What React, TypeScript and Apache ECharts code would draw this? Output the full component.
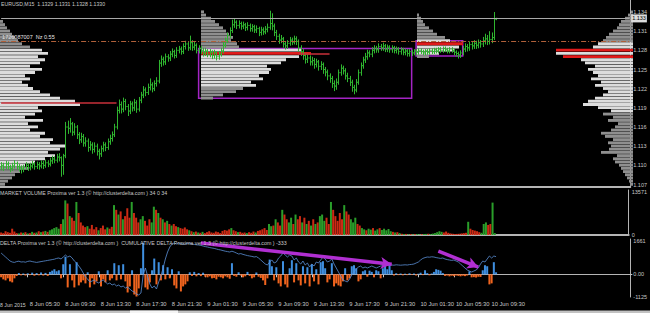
import React, { useEffect, useRef } from "react";
import * as echarts from "echarts";

const FONT = "'Liberation Sans', Arial, sans-serif";
const TEXT = "#c8c8c8";
const BAR_GREEN = "#2fb52f";
const VOL_UP = "#2a9e2a";
const VOL_DN = "#cc2a14";
const DELTA_UP = "#3f8fe0";
const DELTA_DN = "#f0641e";
const CUM_LINE = "#5b8fd6";
const PURPLE = "#a324c4";
const ARROW = "#b12fd2";

// ---- time axis ----
const SESSION_START = Date.UTC(2015, 5, 8, 2, 30);
const BAR_MINUTES = 15;
const SLOT_COUNT = 284;
const MONTHS = ["Jan", "Feb", "Mar", "Apr", "May", "Jun", "Jul", "Aug", "Sep", "Oct", "Nov", "Dec"];
const LABEL_HOURS = [1, 5, 9, 13, 17, 21];
const FIRST_DATE_LABEL = "8 Jun 2015";

// ---- price bars (M15) ----
const FIRST_OPEN = 1.1098;
const closes = [
  1.1100, 1.1097, 1.1102, 1.1098, 1.1095, 1.1099, 1.1103, 1.1098, 1.1096, 1.1094,
  1.1097, 1.1100, 1.1096, 1.1099, 1.1102, 1.1098, 1.1101, 1.1099, 1.1103, 1.1100,
  1.1104, 1.1102, 1.1107, 1.1110, 1.1108, 1.1113, 1.1112, 1.1100, 1.1115, 1.1160,
  1.1158, 1.1165, 1.1152, 1.1160, 1.1148, 1.1140, 1.1145, 1.1135, 1.1138, 1.1128,
  1.1132, 1.1125, 1.1130, 1.1122, 1.1118, 1.1126, 1.1132, 1.1128, 1.1137, 1.1142,
  1.1148, 1.1160, 1.1186, 1.1195, 1.1188, 1.1200, 1.1192, 1.1185, 1.1196, 1.1190,
  1.1198, 1.1188, 1.1202, 1.1210, 1.1218, 1.1214, 1.1222, 1.1226, 1.1220, 1.1228,
  1.1232, 1.1260, 1.1266, 1.1262, 1.1270, 1.1268, 1.1274, 1.1278, 1.1272, 1.1280,
  1.1282, 1.1278, 1.1286, 1.1290, 1.1284, 1.1292, 1.1285, 1.1288, 1.1280, 1.1283,
  1.1280, 1.1276, 1.1279, 1.1274, 1.1277, 1.1272, 1.1276, 1.1270, 1.1274, 1.1279,
  1.1288, 1.1295, 1.1303, 1.1311, 1.1320, 1.1324, 1.1319, 1.1322, 1.1318, 1.1320,
  1.1316, 1.1319, 1.1314, 1.1317, 1.1312, 1.1314, 1.1308, 1.1312, 1.1309, 1.1313,
  1.1316, 1.1322, 1.1318, 1.1308, 1.1302, 1.1296, 1.1298, 1.1290, 1.1287, 1.1291,
  1.1296, 1.1293, 1.1298, 1.1294, 1.1284, 1.1278, 1.1272, 1.1266, 1.1268, 1.1262,
  1.1264, 1.1258, 1.1262, 1.1255, 1.1258, 1.1250, 1.1246, 1.1240, 1.1236, 1.1228,
  1.1224, 1.1230, 1.1245, 1.1252, 1.1248, 1.1240, 1.1236, 1.1230, 1.1222, 1.1218,
  1.1230, 1.1245, 1.1256, 1.1265, 1.1270, 1.1276, 1.1274, 1.1280, 1.1283, 1.1281,
  1.1286, 1.1284, 1.1287, 1.1282, 1.1285, 1.1281, 1.1284, 1.1280, 1.1282, 1.1278,
  1.1281, 1.1277, 1.1279, 1.1275, 1.1278, 1.1276, 1.1279, 1.1277, 1.1280, 1.1278,
  1.1276, 1.1279, 1.1277, 1.1280, 1.1278, 1.1281, 1.1279, 1.1282, 1.1280, 1.1283,
  1.1281, 1.1279, 1.1282, 1.1280, 1.1277, 1.1275, 1.1273, 1.1276, 1.1282, 1.1286,
  1.1284, 1.1289, 1.1287, 1.1291, 1.1288, 1.1292, 1.1290, 1.1295, 1.1298, 1.1294,
  1.1297, 1.1300, 1.1329, 1.1330,
];
const highs = [
  1.1105, 1.1104, 1.1107, 1.1106, 1.1101, 1.1104, 1.1108, 1.1106, 1.1102, 1.1100,
  1.1101, 1.1105, 1.1103, 1.1104, 1.1107, 1.1105, 1.1106, 1.1105, 1.1108, 1.1107,
  1.1109, 1.1108, 1.1112, 1.1115, 1.1114, 1.1118, 1.1119, 1.1114, 1.1118, 1.1168,
  1.1170, 1.1174, 1.1168, 1.1166, 1.1163, 1.1152, 1.1151, 1.1149, 1.1144, 1.1142,
  1.1138, 1.1136, 1.1136, 1.1134, 1.1126, 1.1131, 1.1137, 1.1136, 1.1142, 1.1148,
  1.1153, 1.1165, 1.1192, 1.1203, 1.1200, 1.1206, 1.1204, 1.1196, 1.1201, 1.1200,
  1.1204, 1.1202, 1.1207, 1.1215, 1.1224, 1.1222, 1.1228, 1.1236, 1.1230, 1.1233,
  1.1238, 1.1265, 1.1272, 1.1270, 1.1275, 1.1274, 1.1279, 1.1283, 1.1281, 1.1285,
  1.1287, 1.1286, 1.1291, 1.1295, 1.1293, 1.1303, 1.1296, 1.1293, 1.1291, 1.1288,
  1.1287, 1.1284, 1.1284, 1.1282, 1.1282, 1.1280, 1.1281, 1.1279, 1.1279, 1.1284,
  1.1293, 1.1300, 1.1308, 1.1316, 1.1328, 1.1329, 1.1327, 1.1327, 1.1325, 1.1325,
  1.1323, 1.1324, 1.1322, 1.1321, 1.1320, 1.1319, 1.1317, 1.1317, 1.1316, 1.1318,
  1.1322, 1.1342, 1.1338, 1.1322, 1.1312, 1.1306, 1.1304, 1.1301, 1.1294, 1.1296,
  1.1301, 1.1300, 1.1303, 1.1302, 1.1297, 1.1288, 1.1282, 1.1276, 1.1274, 1.1272,
  1.1270, 1.1268, 1.1267, 1.1265, 1.1263, 1.1261, 1.1254, 1.1250, 1.1244, 1.1240,
  1.1233, 1.1236, 1.1250, 1.1258, 1.1256, 1.1252, 1.1245, 1.1240, 1.1234, 1.1226,
  1.1235, 1.1250, 1.1261, 1.1270, 1.1276, 1.1281, 1.1280, 1.1285, 1.1288, 1.1287,
  1.1291, 1.1290, 1.1292, 1.1290, 1.1289, 1.1288, 1.1288, 1.1287, 1.1286, 1.1285,
  1.1285, 1.1284, 1.1283, 1.1282, 1.1282, 1.1281, 1.1282, 1.1282, 1.1283, 1.1283,
  1.1281, 1.1282, 1.1282, 1.1283, 1.1283, 1.1284, 1.1284, 1.1285, 1.1285, 1.1286,
  1.1286, 1.1284, 1.1285, 1.1285, 1.1283, 1.1280, 1.1278, 1.1280, 1.1287, 1.1291,
  1.1290, 1.1294, 1.1293, 1.1296, 1.1295, 1.1297, 1.1296, 1.1301, 1.1306, 1.1304,
  1.1310, 1.1308, 1.1340, 1.1331,
];
const lows = [
  1.1093, 1.1092, 1.1095, 1.1094, 1.1090, 1.1092, 1.1096, 1.1094, 1.1091, 1.1088,
  1.1090, 1.1094, 1.1092, 1.1093, 1.1096, 1.1094, 1.1095, 1.1094, 1.1096, 1.1095,
  1.1097, 1.1098, 1.1099, 1.1103, 1.1104, 1.1105, 1.1107, 1.1083, 1.1086, 1.1112,
  1.1150, 1.1152, 1.1147, 1.1148, 1.1142, 1.1134, 1.1136, 1.1130, 1.1130, 1.1122,
  1.1124, 1.1119, 1.1121, 1.1116, 1.1110, 1.1114, 1.1122, 1.1123, 1.1125, 1.1133,
  1.1138, 1.1145, 1.1157, 1.1182, 1.1182, 1.1184, 1.1187, 1.1178, 1.1181, 1.1185,
  1.1186, 1.1183, 1.1185, 1.1198, 1.1206, 1.1209, 1.1211, 1.1218, 1.1215, 1.1217,
  1.1224, 1.1229, 1.1255, 1.1257, 1.1258, 1.1263, 1.1264, 1.1270, 1.1268, 1.1269,
  1.1276, 1.1274, 1.1275, 1.1282, 1.1280, 1.1281, 1.1280, 1.1281, 1.1276, 1.1276,
  1.1275, 1.1271, 1.1272, 1.1270, 1.1270, 1.1267, 1.1268, 1.1265, 1.1266, 1.1271,
  1.1276, 1.1285, 1.1292, 1.1300, 1.1308, 1.1316, 1.1314, 1.1315, 1.1313, 1.1314,
  1.1311, 1.1312, 1.1310, 1.1310, 1.1308, 1.1308, 1.1303, 1.1304, 1.1305, 1.1306,
  1.1309, 1.1313, 1.1312, 1.1303, 1.1297, 1.1291, 1.1292, 1.1285, 1.1282, 1.1283,
  1.1288, 1.1289, 1.1290, 1.1289, 1.1279, 1.1272, 1.1266, 1.1260, 1.1261, 1.1257,
  1.1257, 1.1252, 1.1254, 1.1249, 1.1250, 1.1244, 1.1240, 1.1234, 1.1230, 1.1222,
  1.1217, 1.1219, 1.1227, 1.1241, 1.1243, 1.1235, 1.1231, 1.1225, 1.1216, 1.1212,
  1.1215, 1.1227, 1.1241, 1.1252, 1.1261, 1.1266, 1.1270, 1.1270, 1.1276, 1.1277,
  1.1277, 1.1280, 1.1280, 1.1278, 1.1278, 1.1277, 1.1277, 1.1276, 1.1276, 1.1274,
  1.1274, 1.1273, 1.1273, 1.1271, 1.1271, 1.1272, 1.1273, 1.1273, 1.1274, 1.1275,
  1.1273, 1.1273, 1.1274, 1.1274, 1.1275, 1.1275, 1.1276, 1.1276, 1.1277, 1.1277,
  1.1278, 1.1276, 1.1276, 1.1277, 1.1273, 1.1271, 1.1268, 1.1269, 1.1273, 1.1278,
  1.1279, 1.1280, 1.1282, 1.1283, 1.1283, 1.1284, 1.1285, 1.1286, 1.1290, 1.1289,
  1.1290, 1.1292, 1.1297, 1.1328,
];

// ---- market volume ----
const volumes = [
  800, 600, 1200, 900, 700, 2000, 1100, 600, 500, 800,
  700, 900, 500, 600, 1000, 700, 800, 1200, 900, 1100,
  1300, 1000, 1500, 1800, 2200, 2500, 2000, 3500, 5000, 11000,
  10000, 6000, 5500, 4500, 10500, 7000, 4000, 3000, 2500, 2800,
  2000, 3200, 1800, 2500, 1500, 2200, 3000, 1800, 2400, 2000,
  2600, 9500, 8000, 6500, 7500, 5000, 6000, 8500, 5500, 10500,
  7000, 5500, 4000, 5000, 6000, 4500, 3000, 5000, 4000, 9000,
  8000, 7000, 5500, 5000, 4000, 4500, 3500, 3000, 3500, 2800,
  2500, 2200, 2000, 2400, 1800, 1500, 1200, 900, 1100, 800,
  700, 1000, 600, 900, 1200, 800, 700, 1100, 900, 600,
  1300, 1600, 1400, 1800, 2200, 1500, 1200, 900, 1000, 700,
  800, 600, 900, 700, 1100, 800, 1300, 1500, 1800, 2200,
  1600, 3500, 2800, 3000, 5000, 4000, 3000, 8000, 6500, 5000,
  4000, 5500, 3500, 6500, 5000, 6000, 4000, 5500, 3500, 4500,
  3000, 5000, 3500, 4000, 6000, 6500, 4500, 5500, 3500, 10500,
  8000, 6000, 4500, 7000, 5000, 9500, 7500, 6500, 5000, 4000,
  5500, 3500, 3000, 2200, 1800, 1500, 2000, 1700, 2200, 1400,
  1800, 2200, 1600, 2000, 1500, 1900, 1200, 1000, 800, 900,
  600, 400, 300, 350, 250, 300, 200, 250, 300, 200,
  250, 300, 350, 400, 300, 450, 600, 900, 1200, 1000,
  800, 1100, 700, 500, 400, 300, 350, 400, 500, 600,
  700, 4200, 2000, 1600, 1400, 1200, 900, 700, 3500, 4000,
  3200, 3500, 10300, 600,
];

// ---- delta (per bar) ----
const deltas = [
  -150, -250, -300, -200, -350, -400, -200, -80, 60, -50,
  40, -60, 50, -40, 80, -70, 60, -50, 90, -60,
  70, -80, 120, 180, 250, 150, 200, -200, 500, 870,
  -650, 500, -300, -650, 600, -550, -400, -300, -450, 100,
  -650, -200, -500, -350, 150, -600, -250, -400, 200, -300,
  -200, 550, -300, 450, -250, 500, -350, -900, -600, 200,
  -1000, -1100, -700, 300, 1570, -650, -750, -400, 200, 780,
  -500, 600, -300, 450, -250, 350, -200, 250, -550, -700,
  150, -850, -600, -500, -350, 100, -80, 120, -100, 60,
  -90, 80, -120, -150, -100, -200, -180, -250, -120, -150,
  -200, -100, -150, -220, 550, -80, -120, 100, -60, -150,
  -100, 120, -80, -200, -150, 90, -120, -180, -300, -530,
  -200, 730, 400, -300, 350, -450, -600, 650, -500, -650,
  300, 700, -400, 550, -300, -550, 400, -450, 350, -600,
  500, -350, 250, -500, 600, 650, 300, -400, -250, 550,
  -600, -450, -550, -600, -350, 300, -300, -200, 400, 450,
  300, -350, -250, 150, 200, -120, 180, 120, -150, 200,
  150, -200, 300, 450, 250, 500, 200, -60, 50, -40,
  40, -50, 30, -40, 50, -30, 40, -60, 30, 80,
  -40, 200, 60, -50, 40, 120, 250, 220, 180, 60,
  -80, -60, -100, -70, -90, -60, -80, -100, -70, -90,
  -60, 150, -150, -140, -160, -120, -130, 200, 450, 400,
  -500, -450, 600, 100,
];

// ---- cumulative delta ----
const cumDelta = [
  -150, -250, -350, -450, -550, -600, -620, -580, -560, -600,
  -590, -610, -570, -550, -580, -600, -620, -600, -580, -560,
  -540, -520, -500, -480, -460, -420, -400, -450, -350, -250,
  -350, -300, -400, -550, -650, -800, -950, -1150, -1350, -1450,
  -1600, -1550, -1500, -1600, -1650, -1550, -1500, -1600, -1700, -1650,
  -1750, -1700, -1800, -1750, -1850, -1800, -1900, -1850, -1950, -2050,
  -2100, -2200, -2250, -2150, -1250, -900, -1300, -1700, -1900, -1800,
  -1950, -1600, -1300, -900, -450, -100, 150, 300, 350, 300,
  350, 320, 280, 300, 330, 350, 300, 280, 260, 250,
  230, 200, 170, 150, 120, 100, 80, 50, 20, 0,
  -30, -60, -80, -100, -60, -100, -150, -200, -180, -220,
  -250, -280, -300, -320, -350, -330, -400, -500, -600, -700,
  -750, -600, -500, -650, -600, -400, -300, -150, -250, -350,
  -250, -300, -500, -400, -600, -700, -550, -750, -650, -850,
  -700, -800, -600, -650, -500, -350, -450, -600, -550, -450,
  -700, -900, -1100, -1300, -1500, -1550, -1600, -1450, -1250, -1100,
  -950, -850, -800, -900, -850, -900, -850, -800, -850, -900,
  -850, -800, -780, -750, -760, -750, -750, -760, -740, -750,
  -760, -750, -740, -750, -730, -720, -700, -650, -600, -500,
  -420, -380, -350, -360, -340, -350, -380, -400, -420, -400,
  -450, -480, -500, -520, -500, -550, -600, -700, -800, -900,
  -1000, -1050, -1100, -1050, -1000, -900, -700, -550, -600, -450,
  -300, -400, -300, -333,
];

// ---- volume profiles (levels of 0.0005, listed from the lowest price up) ----
const PROFILE_STEP = 0.0005;
const leftProfileBase = 1.107;
const leftProfile = [
  5, 8, 12, 15, 20, 28, 25, 35, 45, 55, 48, 60, 65, 50, 53, 40, 45, 30, 38, 28,
  43, 25, 35, 42, 38, 80, 75, 60, 50, 40, 33, 28, 22, 30, 25, 35, 42, 30, 40, 45,
  38, 48, 42, 30, 22, 18, 15, 12, 10, 7, 5, 3,
];
const leftValueArea = [1.11, 1.128];
const leftPocs: number[] = [];

const midProfileBase = 1.1205;
const midProfile = [
  12, 22, 35, 42, 55, 50, 62, 58, 68, 70, 66, 80, 85, 98, 110, 100, 38, 36, 30, 32,
  28, 25, 22, 18, 14, 10, 5, 3,
];
const midValueArea = [1.1225, 1.128];
const midPocs = [1.1275];

const smallProfileBase = 1.127;
const smallProfile = [12, 22, 38, 42, 46, 33, 28, 20, 16, 12, 8, 6, 4, 2];
const smallValueArea = [1.1275, 1.1295];
const smallPocs = [1.129];

const rightProfileBase = 1.107;
const rightProfile = [
  3, 4, 6, 8, 10, 12, 14, 18, 20, 16, 32, 24, 22, 25, 20, 28, 32, 22, 18, 15,
  25, 20, 30, 22, 35, 50, 45, 38, 30, 25, 30, 38, 32, 42, 35, 40, 45, 38, 48, 52,
  70, 77, 77, 40, 35, 30, 27, 24, 20, 16, 14, 12, 8, 5, 2,
];
const rightValueArea = [1.1185, 1.129];
const rightPocs = [1.127, 1.128];

// ---- levels, zones and annotations ----
const PRICE_MIN = 1.10661;
const PRICE_MAX = 1.13588;
const priceTicks = [1.107, 1.11, 1.113, 1.116, 1.119, 1.122, 1.125, 1.128, 1.131, 1.134];
const LAST_PRICE = 1.133;
const LEVEL_PRICE = 1.1295;
const LEVEL_TEXT = "1726087007  Nz 0.55";
const LEFT_POC_LINE = { price: 1.1198, fromBar: 0, toBar: 52 };
const MID_POC_TAIL = { price: 1.1275, fromBar: 134, toBar: 148 };
const zones = [
  { fromBar: 89, toBar: 185, high: 1.1283, low: 1.1205 },
  { fromBar: 187, toBar: 208, high: 1.1295, low: 1.1271 },
];
const VOLUME_MAX_LABEL = 13571;
const volumeTicks = [0, 13571];
const DELTA_MIN = -1125;
const deltaTicks = [-1125, 0, 1661];
const arrows = [
  { fromBar: 90, fromValue: 1550, toBar: 176, toValue: 500 },
  { fromBar: 197, fromValue: 1150, toBar: 215, toValue: 360 },
];
const PRICE_TITLE = "EURUSD,M15  1.1329 1.1331 1.1328 1.1330";
const VOLUME_TITLE = "MARKET VOLUME Proxima ver 1.3 (© http://clusterdelta.com ) 34 0 34";
const DELTA_TITLE =
  "DELTA Proxima ver 1.3 (© http://clusterdelta.com )  CUMULATIVE DELTA Proxima ver 1.3 (© http://clusterdelta.com ) -333";

function pad2(n: number) {
  return String(n).padStart(2, "0");
}

const slots: string[] = [];
for (let i = 0; i < SLOT_COUNT; i++) {
  const d = new Date(SESSION_START + i * BAR_MINUTES * 60000);
  slots.push(`${d.getUTCDate()} ${MONTHS[d.getUTCMonth()]} ${pad2(d.getUTCHours())}:${pad2(d.getUTCMinutes())}`);
}

function isTimeLabel(index: number, value: string) {
  if (index >= closes.length) return false;
  const m = /(\d\d):(\d\d)$/.exec(value);
  if (!m) return false;
  return m[2] === "30" && LABEL_HOURS.includes(parseInt(m[1], 10));
}

function profileSeries(
  xIdx: number,
  yIdx: number,
  base: number,
  vols: number[],
  va: number[],
  pocs: number[]
) {
  const data = vols.map((v, k) => [Math.round((base + k * PROFILE_STEP) * 1e4) / 1e4, v]);
  return {
    type: "custom",
    xAxisIndex: xIdx,
    yAxisIndex: yIdx,
    silent: true,
    z: 1,
    encode: { x: 1, y: 0 },
    data,
    renderItem: (_p: any, api: any) => {
      const p = api.value(0) as number;
      const v = api.value(1) as number;
      const a = api.coord([0, p]);
      const b = api.coord([v, p]);
      const h = Math.abs(api.size([0, PROFILE_STEP])[1]);
      const isPoc = pocs.some((q) => Math.abs(q - p) < 1e-6);
      const inVa = p >= va[0] - 1e-6 && p <= va[1] + 1e-6;
      const fill = isPoc ? "#e01a1a" : inVa ? "#dcdcdc" : "#8f8f8f";
      return {
        type: "rect",
        shape: {
          x: Math.min(a[0], b[0]),
          y: a[1] - h / 2,
          width: Math.abs(b[0] - a[0]),
          height: Math.max(h - 0.35, 0.8),
        },
        style: { fill },
      };
    },
  };
}

function markerHost(z: number, extra: any) {
  return {
    type: "line",
    xAxisIndex: 0,
    yAxisIndex: 0,
    data: closes,
    symbol: "none",
    showSymbol: false,
    silent: true,
    lineStyle: { opacity: 0 },
    z,
    ...extra,
  };
}

export default function App() {
  const ref = useRef<HTMLDivElement>(null);

  useEffect(() => {
    if (!ref.current) return;
    const chart = echarts.init(ref.current, undefined, { renderer: "svg" });

    const ohlc = closes.map((c, i) => [i, i === 0 ? FIRST_OPEN : closes[i - 1], highs[i], lows[i], c]);
    const lastSlot = SLOT_COUNT - 1;

    const hiddenValueX = (gridIndex: number, max: number, inverse = false) => ({
      type: "value",
      gridIndex,
      min: 0,
      max,
      inverse,
      show: false,
    });
    const hiddenPriceY = (gridIndex: number) => ({
      type: "value",
      gridIndex,
      min: PRICE_MIN,
      max: PRICE_MAX,
      show: false,
    });

    const axisLabelStyle = { color: TEXT, fontSize: 5.5, fontFamily: FONT, margin: 3 };
    const sepLine = { show: true, lineStyle: { color: "#b4b4b4", width: 2 } };

    const option: any = {
      animation: false,
      backgroundColor: "#000000",
      grid: [
        { left: -1, top: 0, width: 634, height: 187 },
        { left: -1, top: 190, width: 634, height: 45 },
        { left: -1, top: 239, width: 634, height: 58 },
        { left: 0, top: 0, width: 120, height: 187 },
        { left: 201, top: 0, width: 140, height: 187 },
        { left: 417, top: 0, width: 60, height: 187 },
        { left: 513, top: 0, width: 120, height: 187 },
      ],
      xAxis: [
        { type: "category", gridIndex: 0, data: slots, axisLine: sepLine, axisTick: { show: false }, axisLabel: { show: false } },
        { type: "category", gridIndex: 1, data: slots, axisLine: sepLine, axisTick: { show: false }, axisLabel: { show: false } },
        {
          type: "category",
          gridIndex: 2,
          data: slots,
          axisLine: { show: true, lineStyle: { color: "#b4b4b4", width: 1 } },
          axisTick: { show: true, interval: isTimeLabel, alignWithLabel: true, length: 3, lineStyle: { color: TEXT } },
          axisLabel: {
            show: true,
            interval: isTimeLabel,
            align: "left",
            color: TEXT,
            fontSize: 5.8,
            fontFamily: FONT,
            margin: 4,
            padding: [0, 0, 0, 2],
          },
        },
        hiddenValueX(3, 120),
        hiddenValueX(4, 140),
        hiddenValueX(5, 60),
        hiddenValueX(6, 120, true),
      ],
      yAxis: [
        {
          type: "value",
          gridIndex: 0,
          position: "right",
          min: PRICE_MIN,
          max: PRICE_MAX,
          splitLine: { show: false },
          axisLine: { show: true, lineStyle: { color: "#b4b4b4" } },
          axisTick: { show: true, length: 2, customValues: priceTicks, lineStyle: { color: TEXT } },
          axisLabel: { ...axisLabelStyle, customValues: priceTicks, formatter: (v: number) => v.toFixed(3) },
        },
        {
          type: "value",
          gridIndex: 1,
          position: "right",
          min: 0,
          max: VOLUME_MAX_LABEL * 1.054,
          splitLine: { show: false },
          axisLine: { show: true, lineStyle: { color: "#b4b4b4" } },
          axisTick: { show: false },
          axisLabel: { ...axisLabelStyle, customValues: volumeTicks, formatter: (v: number) => String(Math.round(v)) },
        },
        {
          type: "value",
          gridIndex: 2,
          position: "right",
          min: DELTA_MIN,
          max: 1750,
          splitLine: { show: false },
          axisLine: { show: true, lineStyle: { color: "#b4b4b4" } },
          axisTick: { show: true, length: 2, customValues: [0], lineStyle: { color: TEXT } },
          axisLabel: {
            ...axisLabelStyle,
            customValues: deltaTicks,
            formatter: (v: number) => (v === 0 ? "0.00" : String(v)),
          },
        },
        { type: "value", gridIndex: 2, min: -2350, max: 550, show: false },
        hiddenPriceY(3),
        hiddenPriceY(4),
        hiddenPriceY(5),
        hiddenPriceY(6),
      ],
      series: [
        profileSeries(3, 4, leftProfileBase, leftProfile, leftValueArea, leftPocs),
        profileSeries(4, 5, midProfileBase, midProfile, midValueArea, midPocs),
        profileSeries(5, 6, smallProfileBase, smallProfile, smallValueArea, smallPocs),
        profileSeries(6, 7, rightProfileBase, rightProfile, rightValueArea, rightPocs),
        markerHost(2, {
          markLine: {
            silent: true,
            symbol: ["none", "none"],
            lineStyle: { color: "#b0603a", width: 1, type: [5, 2, 1, 2] },
            label: {
              show: true,
              position: "insideStartTop",
              distance: 1,
              formatter: LEVEL_TEXT,
              color: "#e6e6e6",
              fontSize: 5.5,
              fontFamily: FONT,
            },
            data: [[{ coord: [0, LEVEL_PRICE] }, { coord: [lastSlot, LEVEL_PRICE] }]],
          },
        }),
        {
          type: "custom",
          xAxisIndex: 0,
          yAxisIndex: 0,
          silent: true,
          z: 3,
          data: ohlc,
          encode: { x: 0, y: [1, 2, 3, 4] },
          renderItem: (_p: any, api: any) => {
            const i = api.value(0);
            const o = api.coord([i, api.value(1)]);
            const h = api.coord([i, api.value(2)]);
            const l = api.coord([i, api.value(3)]);
            const c = api.coord([i, api.value(4)]);
            const x = Math.round(h[0]) + 0.5;
            const st = { stroke: BAR_GREEN, lineWidth: 1 };
            return {
              type: "group",
              children: [
                { type: "line", shape: { x1: x, y1: h[1], x2: x, y2: l[1] + 0.5 }, style: st },
                { type: "line", shape: { x1: x - 1.2, y1: o[1], x2: x, y2: o[1] }, style: st },
                { type: "line", shape: { x1: x, y1: c[1], x2: x + 1.2, y2: c[1] }, style: st },
              ],
            };
          },
        },
        markerHost(5, {
          markLine: {
            silent: true,
            symbol: ["none", "none"],
            lineStyle: { color: "#a8a8a8", width: 1, type: "solid" },
            label: {
              show: true,
              position: "end",
              distance: 2,
              formatter: LAST_PRICE.toFixed(3),
              color: "#000000",
              backgroundColor: "#dcdcdc",
              padding: [1, 1],
              fontSize: 5.5,
              fontFamily: FONT,
            },
            data: [[{ coord: [0, LAST_PRICE] }, { coord: [lastSlot, LAST_PRICE] }]],
          },
        }),
        markerHost(5, {
          markLine: {
            silent: true,
            symbol: ["none", "none"],
            lineStyle: { color: "#c8303a", width: 1.5, type: "solid" },
            label: { show: false },
            data: [
              [{ coord: [LEFT_POC_LINE.fromBar, LEFT_POC_LINE.price] }, { coord: [LEFT_POC_LINE.toBar, LEFT_POC_LINE.price] }],
              [{ coord: [MID_POC_TAIL.fromBar, MID_POC_TAIL.price] }, { coord: [MID_POC_TAIL.toBar, MID_POC_TAIL.price] }],
            ],
          },
          markArea: {
            silent: true,
            itemStyle: { color: "rgba(0,0,0,0)", borderColor: PURPLE, borderWidth: 1.5 },
            label: { show: false },
            data: zones.map((z) => [{ coord: [z.fromBar, z.high] }, { coord: [z.toBar, z.low] }]),
          },
        }),
        {
          type: "bar",
          xAxisIndex: 1,
          yAxisIndex: 1,
          barWidth: 2,
          silent: true,
          data: volumes.map((v, i) => ({ value: v, itemStyle: { color: deltas[i] >= 0 ? VOL_UP : VOL_DN } })),
        },
        {
          type: "bar",
          xAxisIndex: 2,
          yAxisIndex: 2,
          barWidth: 2,
          silent: true,
          data: deltas.map((v) => ({ value: v, itemStyle: { color: v >= 0 ? DELTA_UP : DELTA_DN } })),
          markLine: {
            silent: true,
            symbol: ["none", "arrow"],
            symbolSize: [9, 11],
            lineStyle: { color: ARROW, width: 3.5, type: "solid" },
            label: { show: false },
            data: arrows.map((a) => [{ coord: [a.fromBar, a.fromValue] }, { coord: [a.toBar, a.toValue] }]),
          },
        },
        {
          type: "line",
          xAxisIndex: 2,
          yAxisIndex: 3,
          data: cumDelta,
          symbol: "none",
          showSymbol: false,
          silent: true,
          lineStyle: { color: CUM_LINE, width: 0.8 },
          z: 4,
        },
      ],
      graphic: [
        {
          type: "text",
          x: 1,
          y: 4,
          z: 100,
          style: { text: PRICE_TITLE, fill: TEXT, fontSize: 5.2, fontFamily: FONT, verticalAlign: "middle" },
        },
        {
          type: "text",
          x: 0,
          y: 193,
          z: 100,
          style: { text: VOLUME_TITLE, fill: TEXT, fontSize: 5.3, fontFamily: FONT, verticalAlign: "middle" },
        },
        {
          type: "text",
          x: 0,
          y: 242.5,
          z: 100,
          style: { text: DELTA_TITLE, fill: TEXT, fontSize: 5.3, fontFamily: FONT, verticalAlign: "middle" },
        },
        {
          type: "text",
          x: 0,
          y: 305,
          z: 100,
          style: { text: FIRST_DATE_LABEL, fill: TEXT, fontSize: 5.2, fontFamily: FONT, verticalAlign: "middle" },
        },
        { type: "rect", x: 0, y: 310.5, z: 100, shape: { width: 650, height: 3 }, style: { fill: "#c2c2c2" } },
        { type: "rect", x: 130, y: 310.5, z: 101, shape: { width: 48, height: 3 }, style: { fill: "#f4f4f4" } },
      ],
    };

    chart.setOption(option);
    return () => chart.dispose();
  }, []);

  return (
    <div
      ref={ref}
      style={{ position: "fixed", left: 0, top: 0, width: 650, height: 313, background: "#000" }}
    />
  );
}
